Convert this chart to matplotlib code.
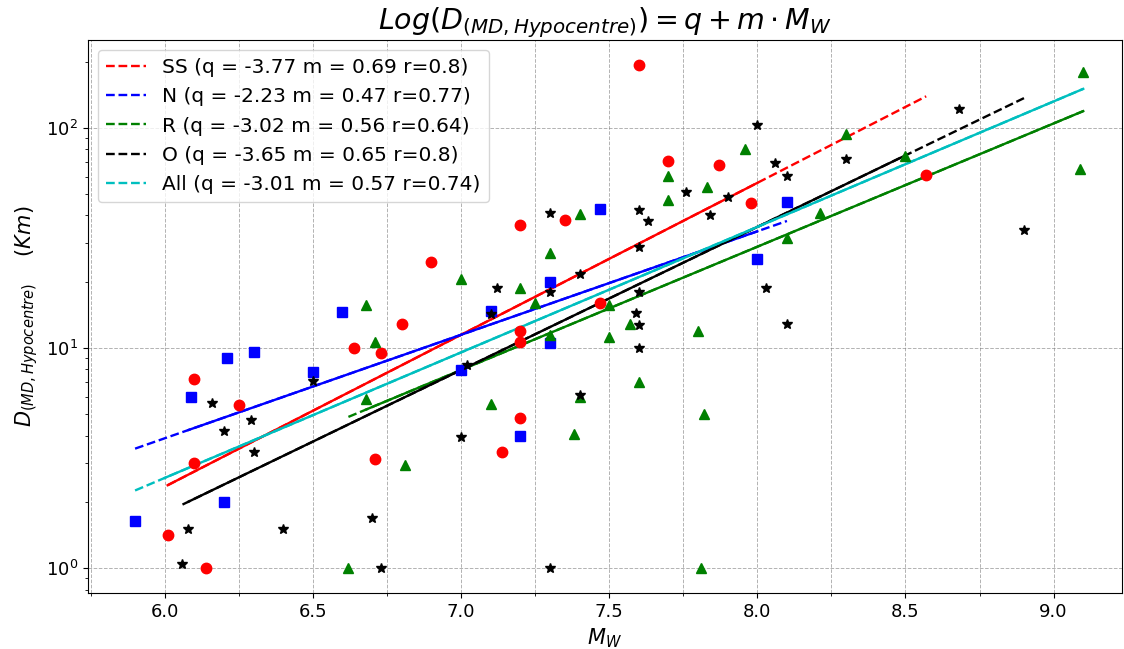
import matplotlib
matplotlib.use('Agg')
import matplotlib.pyplot as plt
import numpy as np
from matplotlib.ticker import MultipleLocator

# SS (strike slip) events
ss_mw = [6.01, 6.10, 6.10, 6.14, 6.25, 6.64, 6.71, 6.73, 6.80, 6.90, 7.14,
         7.20, 7.20, 7.20, 7.20, 7.35, 7.47, 7.60, 7.70, 7.87, 7.98, 8.57]
ss_d = [1.41, 7.2, 3.0, 1.0, 5.5, 10.0, 3.13, 9.5, 12.8, 24.5, 3.36,
        36.2, 12.0, 10.6, 4.82, 38.3, 16.0, 192, 70.6, 67.8, 45.4, 61]

# N (normal) events
n_mw = [5.90, 6.09, 6.20, 6.21, 6.30, 6.50, 6.60, 7.00, 7.10, 7.20, 7.30,
        7.30, 7.47, 8.00, 8.10]
n_d = [1.64, 6.0, 1.99, 9.0, 9.6, 7.8, 14.5, 7.96, 14.7, 4.0, 19.9,
       10.5, 42.7, 25.3, 45.9]

# R (reverse) events
r_mw = [6.62, 6.68, 6.68, 6.71, 6.81, 7.00, 7.10, 7.20, 7.25, 7.30, 7.30,
        7.38, 7.40, 7.40, 7.50, 7.50, 7.57, 7.60, 7.70, 7.70, 7.80, 7.81,
        7.82, 7.83, 7.96, 8.10, 8.21, 8.30, 8.50, 9.09, 9.10]
r_d = [1.0, 15.7, 5.84, 10.6, 2.93, 20.6, 5.57, 18.8, 16.0, 27.0, 11.4,
       4.07, 40.6, 5.97, 15.7, 11.2, 12.8, 7.03, 60.4, 46.9, 11.9, 1.0,
       4.99, 53.8, 80.3, 31.7, 41.2, 93.3, 74.2, 65.2, 179]

# O (oblique) events
o_mw = [6.06, 6.08, 6.16, 6.20, 6.29, 6.30, 6.40, 6.50, 6.70, 6.73, 7.00,
        7.02, 7.10, 7.12, 7.30, 7.30, 7.30, 7.40, 7.40, 7.59, 7.60, 7.60,
        7.60, 7.60, 7.60, 7.63, 7.76, 7.84, 7.90, 8.00, 8.03, 8.06, 8.10,
        8.10, 8.30, 8.68, 8.90]
o_d = [1.05, 1.50, 5.6, 4.2, 4.72, 3.37, 1.50, 7.05, 1.69, 1.0, 3.93,
       8.36, 14.3, 18.7, 41.1, 18.0, 1.0, 21.8, 6.11, 14.4, 42.3, 28.9,
       18.0, 12.7, 10.0, 37.9, 51.3, 40.1, 48.7, 103, 18.8, 69.4, 60.4,
       12.8, 72.1, 122, 34.4]

# regression results (legend) and line extents
names = ['SS', 'N', 'R', 'O', 'All']
colors = ['r', 'b', 'g', 'k', 'c']
q_vals = [-3.77, -2.23, -3.02, -3.65, -3.01]
m_vals = [0.69, 0.47, 0.56, 0.65, 0.57]
r_vals = ['0.8', '0.77', '0.64', '0.8', '0.74']
dash_from = [6.01, 5.90, 6.62, 6.06, 5.90]
dash_to = [8.57, 8.10, 9.10, 8.90, 9.10]
solid_from = [6.01, 6.08, 6.68, 6.08, 6.00]
solid_to = [8.00, 8.00, 9.10, 8.50, 9.10]

fig = plt.figure(figsize=(11.24, 6.49), dpi=100)
ax = fig.add_axes([0.078, 0.086, 0.92, 0.852])

for i in range(len(names)):
    xd = np.array([dash_from[i], dash_to[i]])
    ax.plot(xd, 10 ** (q_vals[i] + m_vals[i] * xd), '--', color=colors[i], lw=1.7,
            label='%s (q = %.2f m = %.2f r=%s)' % (names[i], q_vals[i], m_vals[i], r_vals[i]))
    xs = np.array([solid_from[i], solid_to[i]])
    ax.plot(xs, 10 ** (q_vals[i] + m_vals[i] * xs), '-', color=colors[i], lw=1.7)

ax.plot(ss_mw, ss_d, 'ro', ms=7.5)
ax.plot(n_mw, n_d, 'bs', ms=7)
ax.plot(r_mw, r_d, 'g^', ms=7.5)
ax.plot(o_mw, o_d, 'k*', ms=7)

ax.set_yscale('log')
ax.set_xlim(5.74, 9.23)
ax.set_ylim(0.77, 250)
ax.xaxis.set_major_locator(MultipleLocator(0.5))
ax.xaxis.set_minor_locator(MultipleLocator(0.25))
ax.grid(axis='x', which='both', linestyle='--', color='gray', lw=0.7, alpha=0.6)
ax.grid(axis='y', which='major', linestyle='--', color='gray', lw=0.7, alpha=0.6)
ax.tick_params(labelsize=13)

ax.set_xlabel('$M_W$', fontsize=15)
ax.set_ylabel('$D_{(MD,Hypocentre)}$    $(Km)$', fontsize=15)
ax.set_title('$Log(D_{(MD,Hypocentre)}) = q + m \\cdot M_W$', fontsize=20.5)
ax.legend(loc='upper left', fontsize=14.5)

fig.savefig('out.png', dpi=100)
